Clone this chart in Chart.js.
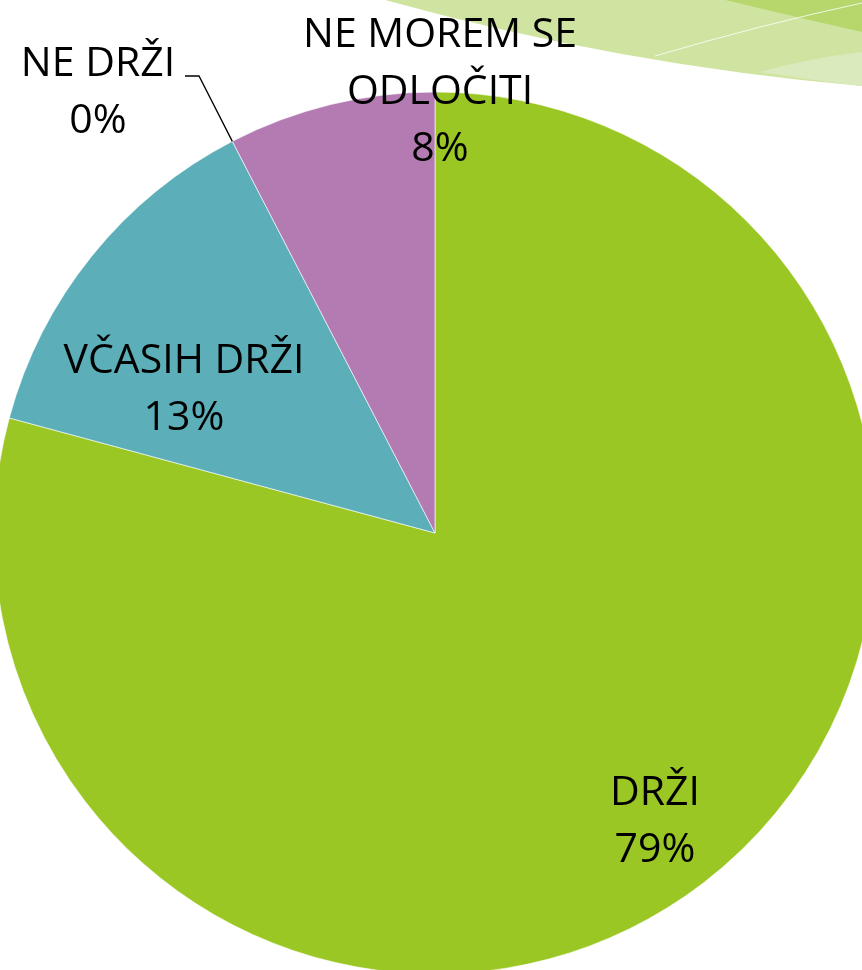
<!DOCTYPE html>
<html>
<head>
<meta charset="utf-8">
<script src="https://cdn.jsdelivr.net/npm/chart.js@4"></script>
<style>
  html, body { margin: 0; padding: 0; background: #fff; overflow: hidden; }
  #pie { display: block; }
</style>
</head>
<body>
<canvas id="pie" width="862" height="970"></canvas>
<script>
// categories, slice shares and the percentages printed on the slide
const categories = ['DRŽI', 'VČASIH DRŽI', 'NE DRŽI', 'NE MOREM SE ODLOČITI'];
const shares = [79.2, 13.2, 0, 7.6];
const shownPct = ['79%', '13%', '0%', '8%'];
const sliceColors = ['#9BC724', '#5CAFB9', '#8064A2', '#B47BB2'];

// label text lines and where they sit relative to the pie centre (px)
const labelLines = [
  ['DRŽI'],
  ['VČASIH DRŽI'],
  ['NE DRŽI'],
  ['NE MOREM SE', 'ODLOČITI']
];
const labelOffsets = [
  {dx: 220, dy: 272},
  {dx: -251, dy: -160},
  {dx: -337, dy: -457},
  {dx: 5, dy: -486}
];

// green swoosh from the slide template, top right
const swoosh = {
  id: 'swoosh',
  beforeDraw(chart) {
    const ctx = chart.ctx;
    ctx.save();
    ctx.fillStyle = '#D0E4A2';
    ctx.beginPath();
    ctx.moveTo(385, 0);
    ctx.quadraticCurveTo(620, 65, 862, 86);
    ctx.lineTo(862, 0);
    ctx.closePath();
    ctx.fill();

    ctx.fillStyle = '#DAEABD';
    ctx.beginPath();
    ctx.moveTo(760, 72);
    ctx.quadraticCurveTo(810, 58, 862, 52);
    ctx.lineTo(862, 86);
    ctx.quadraticCurveTo(810, 80, 760, 72);
    ctx.closePath();
    ctx.fill();

    ctx.fillStyle = '#B7D76C';
    ctx.beginPath();
    ctx.moveTo(725, 0);
    ctx.quadraticCurveTo(800, 18, 862, 32);
    ctx.lineTo(862, 0);
    ctx.closePath();
    ctx.fill();

    ctx.strokeStyle = 'rgba(255,255,255,0.8)';
    ctx.lineWidth = 1;
    ctx.beginPath();
    ctx.moveTo(655, 56);
    ctx.quadraticCurveTo(760, 25, 862, 3);
    ctx.stroke();
    ctx.restore();
  }
};

const sliceLabels = {
  id: 'sliceLabels',
  afterDatasetsDraw(chart) {
    const ctx = chart.ctx;
    const arcs = chart.getDatasetMeta(0).data;
    ctx.save();
    ctx.font = '41px "Open Sans", sans-serif';
    ctx.fillStyle = '#000';
    ctx.textAlign = 'center';
    ctx.textBaseline = 'alphabetic';
    arcs.forEach((arc, i) => {
      const p = arc.getProps(['x', 'y', 'startAngle', 'endAngle', 'outerRadius'], true);
      const lx = p.x + labelOffsets[i].dx;
      let ly = p.y + labelOffsets[i].dy;
      const lines = labelLines[i].concat([shownPct[i]]);
      lines.forEach((t, k) => ctx.fillText(t, lx, ly + k * 57));

      if (shares[i] === 0) {
        // leader line for the empty slice
        const mid = (p.startAngle + p.endAngle) / 2;
        const ex = p.x + p.outerRadius * Math.cos(mid);
        const ey = p.y + p.outerRadius * Math.sin(mid);
        ctx.strokeStyle = '#000';
        ctx.lineWidth = 1.3;
        ctx.beginPath();
        ctx.moveTo(ex, ey);
        ctx.lineTo(lx + 101, ly);
        ctx.lineTo(lx + 87, ly);
        ctx.stroke();
      }
    });
    ctx.restore();
  }
};

new Chart(document.getElementById('pie'), {
  type: 'pie',
  data: {
    labels: categories,
    datasets: [{
      data: shares,
      backgroundColor: sliceColors,
      borderColor: 'rgba(255,255,255,0.6)',
      borderWidth: 1,
      clip: false
    }]
  },
  options: {
    responsive: false,
    animation: false,
    devicePixelRatio: 1,
    radius: 441,
    layout: { padding: { left: 8, right: 0, top: 96, bottom: 0 } },
    plugins: {
      legend: { display: false },
      tooltip: { enabled: false }
    }
  },
  plugins: [swoosh, sliceLabels]
});
</script>
</body>
</html>
